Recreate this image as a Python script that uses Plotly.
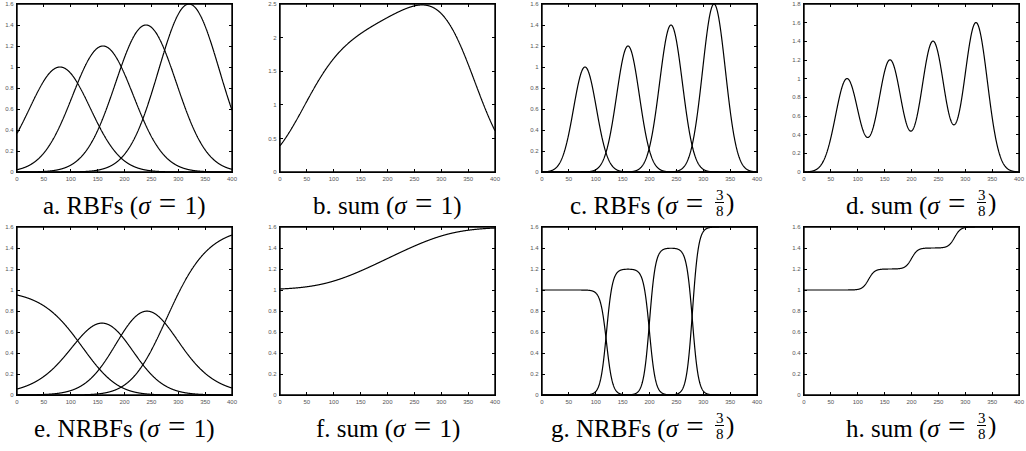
import numpy as np
import plotly.graph_objects as go
from plotly.subplots import make_subplots

# ---- data ----
centers = [80, 160, 240, 320]          # RBF centres
heights = [1.0, 1.2, 1.4, 1.6]         # RBF heights
spacing = 80                           # width unit (centre spacing)
sigmas = [1.0, 3.0 / 8.0]              # the two widths shown
x_range = [0, 400]
x_ticks = [0, 50, 100, 150, 200, 250, 300, 350, 400]
y_ranges = {"a": [0, 1.6], "b": [0, 2.5], "c": [0, 1.6], "d": [0, 1.8],
            "e": [0, 1.6], "f": [0, 1.6], "g": [0, 1.6], "h": [0, 1.6]}
y_dticks = {"a": 0.2, "b": 0.5, "c": 0.2, "d": 0.2,
            "e": 0.2, "f": 0.2, "g": 0.2, "h": 0.2}
EQ = '\u2004<span style="font-size:31px">=</span>\u2004'
captions = {"a": f"a. RBFs (<i>σ</i>{EQ}1)", "b": f"b. sum (<i>σ</i>{EQ}1)",
            "c": f"c. RBFs (<i>σ</i>{EQ}", "d": f"d. sum (<i>σ</i>{EQ}",
            "e": f"e. NRBFs (<i>σ</i>{EQ}1)", "f": f"f. sum (<i>σ</i>{EQ}1)",
            "g": f"g. NRBFs (<i>σ</i>{EQ}", "h": f"h. sum (<i>σ</i>{EQ}"}
frac_panels = ["c", "d", "g", "h"]
frac_num, frac_den = "3", "8"

x = np.linspace(x_range[0], x_range[1], 1601)


def basis(sig):
    return np.array([np.exp(-((x - c) / (spacing * sig)) ** 2) for c in centers])


def rbfs(sig):
    g = basis(sig)
    return [h * gi for h, gi in zip(heights, g)]


def nrbfs(sig):
    g = basis(sig)
    s = g.sum(axis=0)
    return [h * gi / s for h, gi in zip(heights, g)]


panel_curves = {
    "a": rbfs(sigmas[0]),
    "b": [np.sum(rbfs(sigmas[0]), axis=0)],
    "c": rbfs(sigmas[1]),
    "d": [np.sum(rbfs(sigmas[1]), axis=0)],
    "e": nrbfs(sigmas[0]),
    "f": [np.sum(nrbfs(sigmas[0]), axis=0)],
    "g": nrbfs(sigmas[1]),
    "h": [np.sum(nrbfs(sigmas[1]), axis=0)],
}

W, H = 1026, 451
col_px = [(17, 232), (280, 495), (542, 757), (804, 1019)]
row_px = [(4, 172), (227, 395)]
order = ["a", "b", "c", "d", "e", "f", "g", "h"]

fig = make_subplots(rows=2, cols=4)

annotations = []
shapes = []
for idx, key in enumerate(order):
    r, c = divmod(idx, 4)
    n = idx + 1
    for yv in panel_curves[key]:
        fig.add_trace(go.Scatter(x=x, y=yv, mode="lines",
                                 line=dict(color="black", width=1.2,
                                           simplify=False),
                                 showlegend=False, hoverinfo="skip"),
                      row=r + 1, col=c + 1)
    x0, x1 = col_px[c]
    t0, t1 = row_px[r]
    axis_common = dict(showline=True, linecolor="black", linewidth=1.4,
                       mirror="ticks", ticks="inside", ticklen=3,
                       tickcolor="black", tickwidth=0.8, showgrid=False,
                       zeroline=False, automargin=False,
                       tickfont=dict(size=6, color="#555",
                                     family="Liberation Sans"))
    fig.update_layout(**{
        f"xaxis{n}": dict(domain=[x0 / W, x1 / W], range=x_range,
                          tickvals=x_ticks, ticklabelstandoff=1, **axis_common),
        f"yaxis{n}": dict(domain=[1 - t1 / H, 1 - t0 / H],
                          range=y_ranges[key], dtick=y_dticks[key], tick0=0,
                          ticklabelstandoff=1, **axis_common),
    })
    # frame (box on)
    shapes.append(dict(type="rect", xref="paper", yref="paper",
                       x0=x0 / W, x1=x1 / W, y0=1 - t1 / H, y1=1 - t0 / H,
                       line=dict(color="black", width=1.4), layer="above"))
    # caption
    cx = (x0 + x1) / 2
    base = 211.5 + r * 223
    mid = base - 8.5
    cap_font = dict(size=25, color="black", family="Liberation Serif")
    if key in frac_panels:
        fx = cx + 70
        annotations.append(dict(text=captions[key], x=(fx - 6) / W,
                                y=1 - mid / H, xref="paper",
                                yref="paper", xanchor="right",
                                yanchor="middle", showarrow=False,
                                font=cap_font))
        small = dict(size=15, color="black", family="Liberation Serif")
        annotations.append(dict(text=frac_num, x=fx / W, y=1 - (base - 17) / H,
                                xref="paper", yref="paper", xanchor="center",
                                yanchor="middle", showarrow=False, font=small))
        annotations.append(dict(text=frac_den, x=fx / W, y=1 - (base - 1) / H,
                                xref="paper", yref="paper", xanchor="center",
                                yanchor="middle", showarrow=False, font=small))
        annotations.append(dict(text=")", x=(fx + 4) / W,
                                y=1 - mid / H, xref="paper",
                                yref="paper", xanchor="left",
                                yanchor="middle", showarrow=False,
                                font=cap_font))
        shapes.append(dict(type="line", xref="paper", yref="paper",
                           x0=(fx - 4.5) / W, x1=(fx + 4.5) / W,
                           y0=1 - (base - 9) / H, y1=1 - (base - 9) / H,
                           line=dict(color="black", width=1)))
    else:
        annotations.append(dict(text=captions[key], x=cx / W,
                                y=1 - mid / H, xref="paper",
                                yref="paper", xanchor="center",
                                yanchor="middle", showarrow=False,
                                font=cap_font))

fig.update_layout(width=W, height=H, margin=dict(l=0, r=0, t=0, b=0),
                  paper_bgcolor="white", plot_bgcolor="white",
                  annotations=annotations, shapes=shapes)
fig.write_html("out.html", config={"displayModeBar": False},
               post_script="document.body.style.margin='0';"
                           "document.body.style.overflow='hidden';")
